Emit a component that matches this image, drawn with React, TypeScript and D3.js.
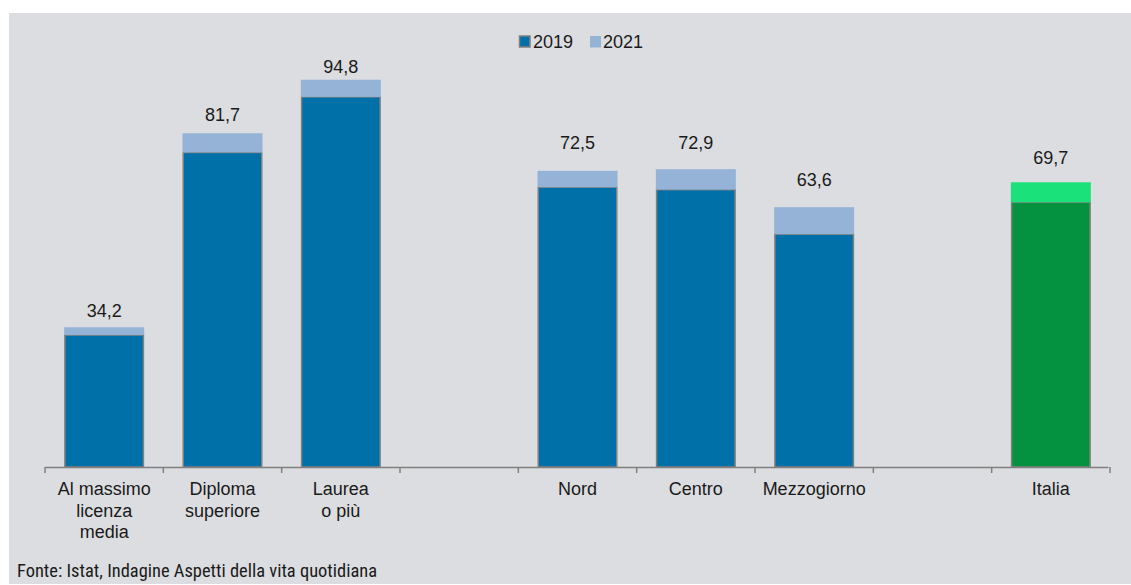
import React from "react";
import * as d3 from "d3";

const categories: string[][] = [
  ["Al massimo", "licenza", "media"],
  ["Diploma", "superiore"],
  ["Laurea", "o più"],
  [],
  ["Nord"],
  ["Centro"],
  ["Mezzogiorno"],
  [],
  ["Italia"],
];
const values2019: (number | null)[] = [32.3, 77.0, 90.6, null, 68.5, 67.9, 57.0, null, 64.8];
const values2021: (number | null)[] = [34.2, 81.7, 94.8, null, 72.5, 72.9, 63.6, null, 69.7];
const valueLabels: string[] = ["34,2", "81,7", "94,8", "", "72,5", "72,9", "63,6", "", "69,7"];
const highlighted: boolean[] = [false, false, false, false, false, false, false, false, true];
const seriesNames = ["2019", "2021"];

const W = 1131;
const H = 585;
const FONT = "'Liberation Sans', Arial, sans-serif";

export default function App() {
  const x = d3
    .scaleBand<number>()
    .domain(categories.map((_, i) => i))
    .range([45, 1110])
    .paddingInner(0.324)
    .paddingOuter(0.162);
  const y = d3.scaleLinear().domain([0, 100]).range([467, 58.5]);
  const step = x.step();
  const bw = x.bandwidth();
  const labelGap = [10, 12, 7, 0, 22, 20, 21, 0, 18];
  const tickXs = d3.range(categories.length + 1).map((i) => 45 + i * step);

  return (
    <svg width={W} height={H} style={{ position: "absolute", left: 0, top: 0 }}>
      <rect x={0} y={0} width={W} height={H} fill="#ffffff" />
      <rect x={9} y={13} width={W - 9} height={571} fill="#dcdde0" />

      {/* legend */}
      <g fontFamily={FONT} fontSize={18} fill="#1a1a1a">
        <rect x={519.5} y={36} width={10.5} height={11} fill="#0070a8" stroke="#7f7f7f" strokeWidth={1.5} />
        <text x={533} y={48}>{seriesNames[0]}</text>
        <rect x={590} y={36} width={11} height={11.5} fill="#95b3d7" />
        <text x={603} y={48}>{seriesNames[1]}</text>
      </g>

      {/* bars */}
      {categories.map((_, i) => {
        const v19 = values2019[i];
        const v21 = values2021[i];
        if (v19 == null || v21 == null) return null;
        const bx = x(i)!;
        const c19 = highlighted[i] ? "#049241" : "#0070a8";
        const c21 = highlighted[i] ? "#1ae17a" : "#95b3d7";
        return (
          <g key={i}>
            <rect
              x={bx + 0.75}
              y={y(v19)}
              width={bw - 1.5}
              height={y(0) - y(v19)}
              fill={c19}
              stroke="#7f7f7f"
              strokeWidth={1.5}
            />
            <rect x={bx} y={y(v21)} width={bw} height={y(v19) - y(v21)} fill={c21} />
            <text
              x={bx + bw / 2}
              y={y(v21) - labelGap[i]}
              textAnchor="middle"
              fontFamily={FONT}
              fontSize={18}
              fill="#1a1a1a"
            >
              {valueLabels[i]}
            </text>
          </g>
        );
      })}

      {/* axis */}
      <line x1={45} x2={1108.5} y1={467.5} y2={467.5} stroke="#808080" strokeWidth={1.5} />
      {tickXs.map((tx, i) => (
        <line key={i} x1={tx} x2={tx} y1={467} y2={473} stroke="#808080" strokeWidth={1.5} />
      ))}

      {/* category labels */}
      {categories.map((lines, i) => (
        <text
          key={i}
          x={x(i)! + bw / 2}
          y={495}
          textAnchor="middle"
          fontFamily={FONT}
          fontSize={18}
          fill="#1a1a1a"
        >
          {lines.map((l, j) => (
            <tspan key={j} x={x(i)! + bw / 2} dy={j === 0 ? 0 : 21.7}>
              {l}
            </tspan>
          ))}
        </text>
      ))}

      <text
        x={17}
        y={577}
        fontFamily="'Liberation Sans Narrow', 'Arial Narrow', 'Roboto Condensed', sans-serif"
        fontSize={18}
        fill="#1a1a1a"
        textLength={360}
        lengthAdjust="spacingAndGlyphs"
      >
        Fonte: Istat, Indagine Aspetti della vita quotidiana
      </text>
    </svg>
  );
}
